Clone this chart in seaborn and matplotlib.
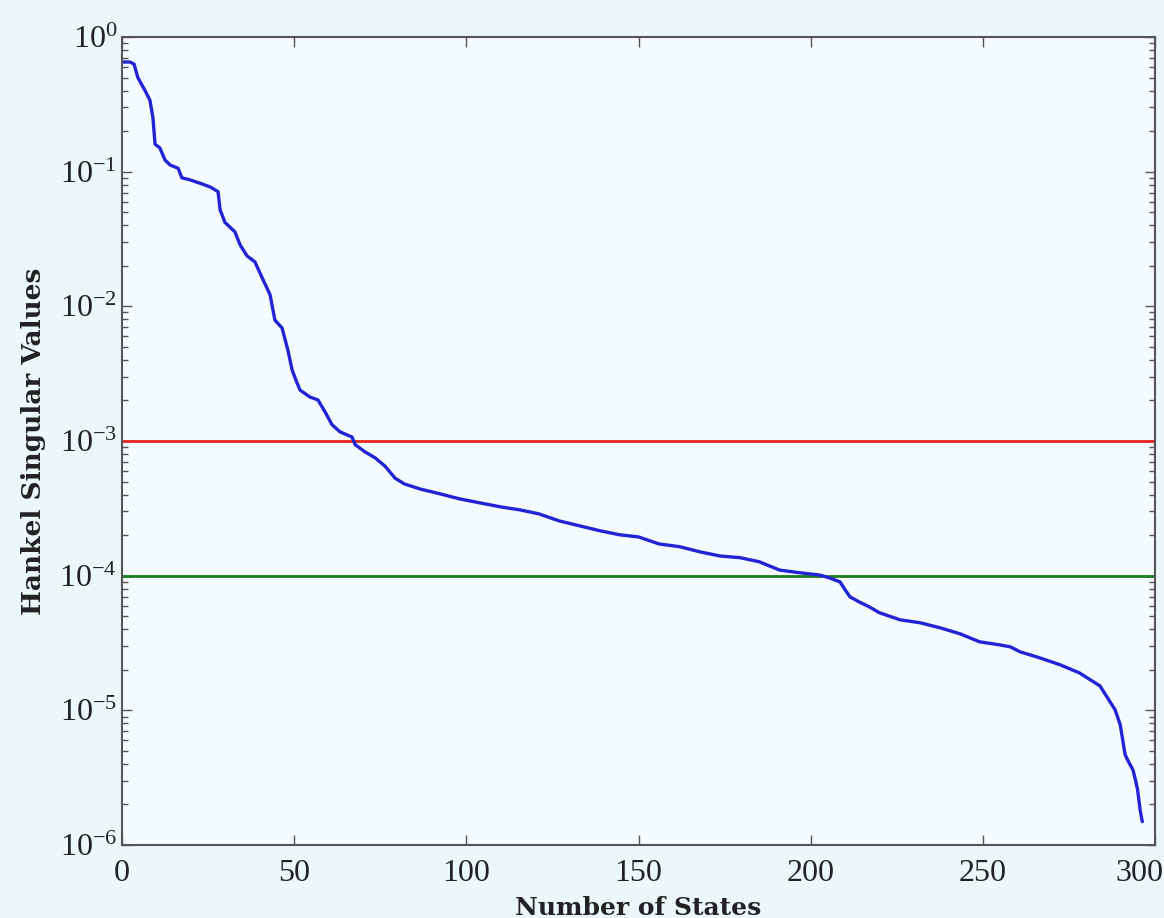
import numpy as np
import pandas as pd
import matplotlib
matplotlib.use("Agg")
import matplotlib.pyplot as plt
import matplotlib.transforms as mtransforms
import seaborn as sns

# values (log-scale y)
states = [0, 2.3, 3.5, 4.6, 6.7, 8.1, 9.0, 9.6, 11, 12.5, 14, 16.3, 17.4, 19.7, 22.7,
          25.6, 27.9, 28.5, 29.9, 32.8, 34.3, 36.3, 38.6, 40.7, 43, 44.4, 46.5, 48.2,
          49.4, 50.5, 51.7, 54.6, 56.9, 59, 61, 63.3, 66.8, 67.7, 70.6, 73.5, 76.4,
          79.3, 82, 86.6, 92.4, 98, 104, 110, 115.6, 121, 127, 133, 139, 144.6, 150,
          156, 162, 168, 173.7, 179.5, 185, 191, 197, 202.7, 205.6, 208.5, 210,
          211.4, 214, 217, 220, 226, 231.8, 237.6, 243.4, 249, 255, 258, 260.8,
          266.6, 272.4, 278, 284, 288.4, 289.9, 291.3, 292, 293.6, 294.3, 294.9,
          295.7, 296.3]
hsv = [0.652, 0.652, 0.63, 0.50, 0.40, 0.34, 0.25, 0.16, 0.15, 0.122, 0.112, 0.106,
       0.090, 0.087, 0.082, 0.077, 0.071, 0.052, 0.042, 0.0357, 0.0286, 0.0237,
       0.0214, 0.0163, 0.0122, 0.0079, 0.0069, 0.0047, 0.00337, 0.00284, 0.00239,
       0.00212, 0.00202, 0.00164, 0.00132, 0.00117, 0.00107, 9.4e-4, 8.3e-4, 7.5e-4,
       6.5e-4, 5.3e-4, 4.8e-4, 4.4e-4, 4.05e-4, 3.72e-4, 3.47e-4, 3.24e-4, 3.08e-4,
       2.88e-4, 2.55e-4, 2.34e-4, 2.15e-4, 2.01e-4, 1.94e-4, 1.72e-4, 1.64e-4,
       1.50e-4, 1.40e-4, 1.36e-4, 1.27e-4, 1.10e-4, 1.05e-4, 1.01e-4, 9.6e-5,
       9.0e-5, 7.85e-5, 6.97e-5, 6.4e-5, 5.87e-5, 5.3e-5, 4.7e-5, 4.47e-5, 4.1e-5,
       3.7e-5, 3.23e-5, 3.06e-5, 2.96e-5, 2.72e-5, 2.45e-5, 2.18e-5, 1.90e-5,
       1.52e-5, 1.01e-5, 7.8e-6, 4.7e-6, 4.3e-6, 3.6e-6, 3.05e-6, 2.6e-6,
       1.8e-6, 1.49e-6]
thresholds = [1e-3, 1e-4]
threshold_colors = ["#e8231f", "#1f7d1f"]
xticks = [0, 50, 100, 150, 200, 250, 300]
yticks = [1e-6, 1e-5, 1e-4, 1e-3, 1e-2, 1e-1, 1]

df = pd.DataFrame({"states": states, "hsv": hsv})

sns.set_style("ticks")
plt.rcParams["font.family"] = ["Liberation Serif", "DejaVu Serif"]
plt.rcParams["mathtext.fontset"] = "stix"

fig = plt.figure(figsize=(11.64, 9.18), dpi=100, facecolor="#ecf7fa")
ax = fig.add_axes([0.1048, 0.0795, 0.8875, 0.8802])
ax.set_facecolor("#f4fbfd")

for t, c in zip(thresholds, threshold_colors):
    ax.axhline(t, color=c, lw=2.0)
sns.lineplot(data=df, x="states", y="hsv", ax=ax, color="#2323d6", lw=2.4)

ax.set_yscale("log")
ax.set_xlim(0, 300)
ax.set_ylim(1e-6, 1)
ax.set_xticks(xticks)
ax.set_yticks(yticks)

ax.tick_params(which="both", direction="in", top=True, right=True,
               color="#555555", labelsize=23, labelcolor="#222222")
ax.tick_params(which="major", length=7, width=1)
ax.tick_params(axis="x", which="major", pad=10)
ax.tick_params(which="minor", length=4, width=1)
for s in ax.spines.values():
    s.set_color("#555555")
    s.set_linewidth(1.5)

# last x label sits a bit left of its tick, like the reference
last = ax.get_xticklabels()[-1]
last.set_transform(last.get_transform() + mtransforms.ScaledTranslation(-0.16, 0, fig.dpi_scale_trans))

ax.set_xlabel("Number of States", fontsize=18, fontweight="bold", labelpad=6,
              family="DejaVu Serif", color="#222222")
ax.set_ylabel("Hankel Singular Values", fontsize=19, fontweight="bold", labelpad=10,
              family="DejaVu Serif", color="#222222")

fig.savefig("out.png", dpi=100, facecolor=fig.get_facecolor())
